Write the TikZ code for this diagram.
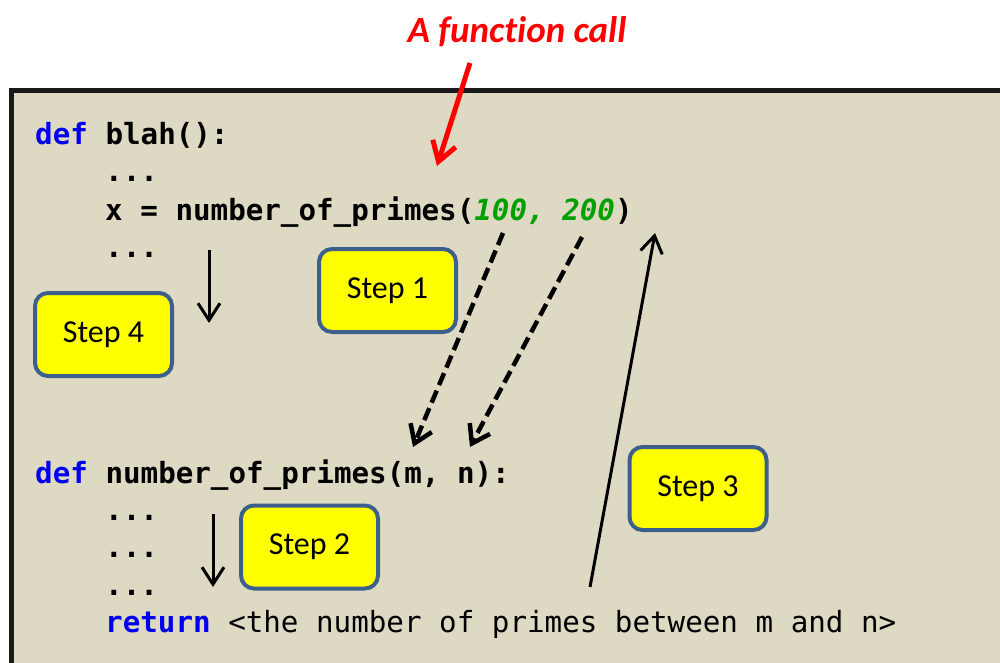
\documentclass[tikz,border=0pt]{standalone}
\usepackage{fontspec}
\setmainfont{Carlito}[Ligatures=NoCommon]
\newfontfamily\codefont{DejaVu Sans Mono}
\usetikzlibrary{arrows.meta}
\definecolor{beige}{HTML}{DDD9C3}
\definecolor{stepblue}{HTML}{3C5F8C}
\definecolor{stepyellow}{HTML}{FFFF00}
\definecolor{kwblue}{HTML}{0000F0}
\definecolor{numgreen}{HTML}{00A000}
\definecolor{titlered}{HTML}{FF0000}
\begin{document}
\begin{tikzpicture}[x=1pt,y=-1pt,
  code/.style={anchor=base west, inner sep=0pt, font=\codefont\fontsize{29.2pt}{29pt}\selectfont},
  stepbox/.style={draw=stepblue, line width=4pt, fill=stepyellow, rounded corners=13pt,
    minimum width=137pt, minimum height=83pt, inner sep=0pt,
    font=\fontsize{32pt}{32pt}\selectfont},
  flow/.style={line width=3pt, -{Straight Barb[length=17pt,width=22pt]}},
  pass/.style={line width=4.5pt, dash pattern=on 13pt off 6pt, -{Straight Barb[length=17pt,width=23pt]}},
  callarrow/.style={line width=5pt, titlered, -{Straight Barb[length=19pt,width=24pt]}}]
\path[use as bounding box] (0,0) rectangle (1000,663);
\clip (0,0) rectangle (1000,663);
\fill[white] (0,0) rectangle (1000,663);
\draw[line width=4.5pt, draw=black!90, fill=beige] (11.5,90.5) rectangle (1030,700);
% title
\node[font=\bfseries\itshape\fontsize{37pt}{37pt}\selectfont, text=titlered, anchor=base, inner sep=0pt] (title) at (517,43) {A function call};
% code
\node[code] (l1) at (35,145) {\bfseries\textcolor{kwblue}{def} blah():};
\node[code] (l2) at (105,182) {\bfseries ...};
\node[code] (l3) at (105,220) {\bfseries x = number\_of\_primes(\textcolor{numgreen}{\itshape 100, 200})};
\node[code] (l4) at (105,257) {\bfseries ...};
\node[code] (l5) at (35,483) {\bfseries\textcolor{kwblue}{def} number\_of\_primes(m, n):};
\node[code] (l6) at (105,520) {\bfseries ...};
\node[code] (l7) at (105,557) {\bfseries ...};
\node[code] (l8) at (105,595) {\bfseries ...};
\node[code] (l9) at (105,632) {\textcolor{kwblue}{\bfseries return} <the number of primes between m and n>};
% step boxes
\node[stepbox] (s1) at (387.5,290.5) {\raisebox{2pt}{Step 1}};
\node[stepbox] (s4) at (103.5,334.5) {\raisebox{2pt}{Step 4}};
\node[stepbox] (s2) at (309.5,547) {\raisebox{2pt}{Step 2}};
\node[stepbox] (s3) at (698,488.5) {\raisebox{2pt}{Step 3}};
% arrows
\coordinate (r1) at (470,63);
\coordinate (r2) at (437,166);
\draw[callarrow] (r1) -- (r2);
\coordinate (a4s) at (209,250);
\coordinate (a4e) at (209,323);
\draw[flow] (a4s) -- (a4e);
\coordinate (a2s) at (213,514);
\coordinate (a2e) at (213,587);
\draw[flow] (a2s) -- (a2e);
\coordinate (d1s) at (503,233);
\coordinate (d1e) at (413,447);
\draw[pass] (d1s) -- (d1e);
\coordinate (d2s) at (582,237);
\coordinate (d2e) at (470,447);
\draw[pass] (d2s) -- (d2e);
\coordinate (a3s) at (590,587);
\coordinate (a3e) at (655,233);
\draw[flow] (a3s) -- (a3e);
\end{tikzpicture}
\end{document}
